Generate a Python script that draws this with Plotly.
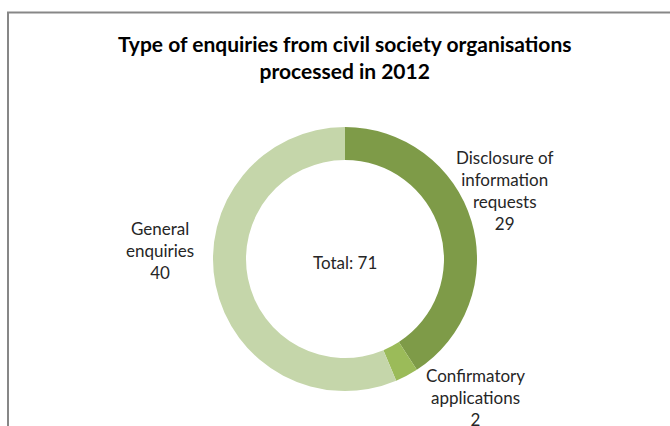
import plotly.graph_objects as go

categories = ["Disclosure of<br>information<br>requests", "Confirmatory<br>applications", "General<br>enquiries"]
values = [29, 2, 40]
colors = ["#7e9b48", "#9bbb59", "#c5d6aa"]
title_text = "Type of enquiries from civil society organisations<br>processed in 2012"
total_label = "Total: "

W, H = 670, 426
cx, cy, r = 345, 259, 132

fig = go.Figure(go.Pie(
    labels=categories,
    values=values,
    sort=False,
    direction="clockwise",
    rotation=0,
    hole=0.75,
    marker=dict(colors=colors, line=dict(width=0)),
    textinfo="none",
    hoverinfo="label+value",
    showlegend=False,
    domain=dict(x=[(cx - r) / W, (cx + r) / W], y=[1 - (cy + r) / H, 1 - (cy - r) / H]),
))

font_fam = "Lato, Open Sans, sans-serif"
label_pos = [(505, 191), (475, 397), (160, 251)]
anns = []
for (x, y), lab, v in zip(label_pos, categories, values):
    anns.append(dict(x=x / W, y=1 - y / H, xref="paper", yref="paper",
                     xanchor="center", yanchor="middle",
                     text=f"{lab}<br>{v}", showarrow=False, align="center",
                     font=dict(family=font_fam, size=17, color="#262626")))
anns.append(dict(x=cx / W, y=1 - 262 / H, xref="paper", yref="paper",
                 xanchor="center", yanchor="middle",
                 text=f"{total_label}{sum(values)}", showarrow=False,
                 font=dict(family=font_fam, size=17, color="#262626")))
anns.append(dict(x=344 / W, y=1 - 57 / H, xref="paper", yref="paper",
                 xanchor="center", yanchor="middle",
                 text=f"<b>{title_text}</b>", showarrow=False, align="center",
                 font=dict(family=font_fam, size=21, color="#000000")))

fig.update_layout(
    width=W, height=H,
    margin=dict(l=0, r=0, t=0, b=0),
    paper_bgcolor="white", plot_bgcolor="white",
    annotations=anns,
    shapes=[dict(type="rect", xref="paper", yref="paper",
                 x0=8 / W, x1=1.2, y0=-0.2, y1=1 - 12.5 / H,
                 line=dict(color="#878787", width=2))],
)

fig.write_html("out.html")
